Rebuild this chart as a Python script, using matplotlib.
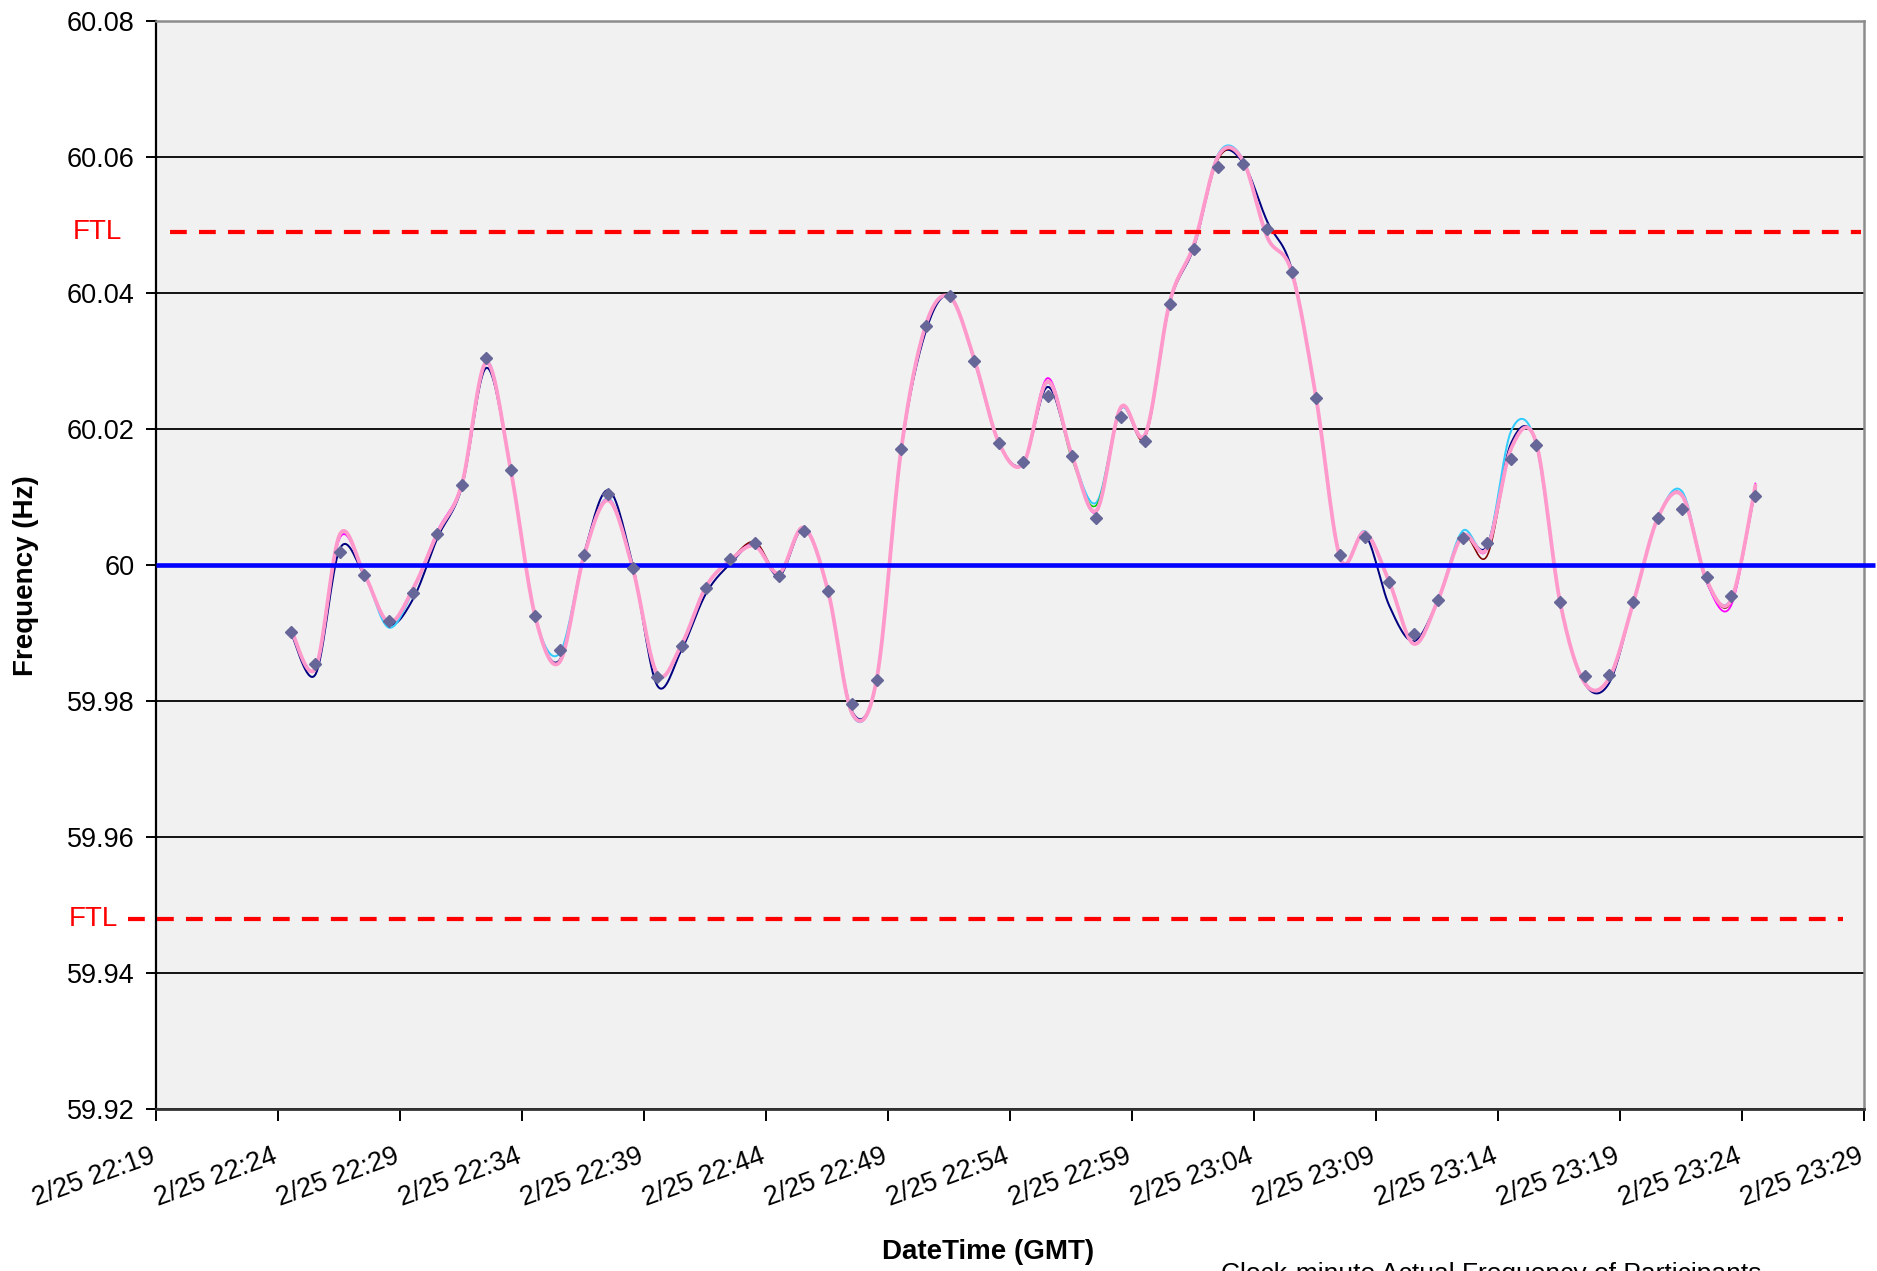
import numpy as np
import pandas as pd
import matplotlib
matplotlib.use("Agg")
import matplotlib.pyplot as plt
import matplotlib.dates as mdates
import matplotlib.transforms as mtransforms

# ---------------- data ----------------
tick_labels = ["2/25 22:19", "2/25 22:24", "2/25 22:29", "2/25 22:34", "2/25 22:39",
               "2/25 22:44", "2/25 22:49", "2/25 22:54", "2/25 22:59", "2/25 23:04",
               "2/25 23:09", "2/25 23:14", "2/25 23:19", "2/25 23:24", "2/25 23:29"]
y_ticks = [59.92, 59.94, 59.96, 59.98, 60.00, 60.02, 60.04, 60.06, 60.08]
y_tick_labels = ["59.92", "59.94", "59.96", "59.98", "60", "60.02", "60.04", "60.06", "60.08"]

start_time = "2008/2/25 22:24:33"   # first clock-minute sample

# Actual frequency (diamond markers), one per clock minute
actual = [59.9902, 59.9854, 60.0019, 59.9985, 59.9918, 59.9959, 60.0046, 60.0117, 60.0304, 60.0140,
          59.9925, 59.9875, 60.0015, 60.0104, 59.9995, 59.9835, 59.9881, 59.9966, 60.0009, 60.0033,
          59.9984, 60.0050, 59.9962, 59.9795, 59.9831, 60.0170, 60.0351, 60.0395, 60.0300, 60.0179,
          60.0152, 60.0248, 60.0160, 60.0069, 60.0217, 60.0183, 60.0384, 60.0465, 60.0586, 60.0590,
          60.0494, 60.0431, 60.0246, 60.0015, 60.0041, 59.9975, 59.9899, 59.9949, 60.0039, 60.0032,
          60.0156, 60.0177, 59.9945, 59.9837, 59.9838, 59.9945, 60.0069, 60.0082, 59.9982, 59.9955,
          60.0102]

# Participants' frequency traces
pink = [59.9905, 59.9848, 60.0045, 59.9987, 59.9916, 59.9965, 60.0047, 60.0119, 60.0298, 60.0140,
        59.9925, 59.9857, 60.0013, 60.0095, 59.9995, 59.9840, 59.9883, 59.9968, 60.0007, 60.0028,
        59.9988, 60.0055, 59.9962, 59.9781, 59.9833, 60.0170, 60.0352, 60.0394, 60.0302, 60.0180,
        60.0149, 60.0270, 60.0161, 60.0080, 60.0232, 60.0192, 60.0386, 60.0472, 60.0602, 60.0595,
        60.0482, 60.0431, 60.0246, 60.0009, 60.0048, 59.9975, 59.9884, 59.9949, 60.0043, 60.0024,
        60.0172, 60.0182, 59.9945, 59.9827, 59.9833, 59.9945, 60.0069, 60.0102, 59.9978, 59.9948,
        60.0117]
navy = [59.9900, 59.9839, 60.0024, 59.9985, 59.9913, 59.9950, 60.0040, 60.0115, 60.0290, 60.0140,
        59.9925, 59.9860, 60.0016, 60.0110, 60.0000, 59.9823, 59.9875, 59.9958, 60.0002, 60.0030,
        59.9984, 60.0053, 59.9962, 59.9784, 59.9833, 60.0168, 60.0343, 60.0395, 60.0300, 60.0180,
        60.0150, 60.0262, 60.0160, 60.0080, 60.0230, 60.0190, 60.0384, 60.0468, 60.0600, 60.0592,
        60.0505, 60.0435, 60.0246, 60.0010, 60.0045, 59.9940, 59.9888, 59.9949, 60.0043, 60.0028,
        60.0180, 60.0180, 59.9945, 59.9826, 59.9826, 59.9945, 60.0069, 60.0103, 59.9975, 59.9948,
        60.0112]
cyan = [59.9905, 59.9848, 60.0043, 59.9987, 59.9908, 59.9962, 60.0046, 60.0117, 60.0300, 60.0142,
        59.9925, 59.9870, 60.0013, 60.0098, 59.9995, 59.9838, 59.9883, 59.9968, 60.0007, 60.0030,
        59.9988, 60.0055, 59.9962, 59.9779, 59.9833, 60.0170, 60.0352, 60.0394, 60.0302, 60.0180,
        60.0150, 60.0268, 60.0161, 60.0092, 60.0230, 60.0192, 60.0386, 60.0472, 60.0605, 60.0597,
        60.0482, 60.0431, 60.0246, 60.0009, 60.0050, 59.9975, 59.9884, 59.9949, 60.0050, 60.0026,
        60.0198, 60.0180, 59.9945, 59.9828, 59.9833, 59.9945, 60.0069, 60.0108, 59.9978, 59.9950,
        60.0117]
magenta = [59.9905, 59.9848, 60.0040, 59.9987, 59.9916, 59.9965, 60.0050, 60.0121, 60.0298, 60.0140,
           59.9925, 59.9857, 60.0015, 60.0097, 59.9995, 59.9840, 59.9883, 59.9968, 60.0007, 60.0030,
           59.9988, 60.0055, 59.9962, 59.9781, 59.9833, 60.0172, 60.0352, 60.0394, 60.0302, 60.0180,
           60.0149, 60.0275, 60.0161, 60.0078, 60.0232, 60.0192, 60.0386, 60.0472, 60.0602, 60.0595,
           60.0482, 60.0431, 60.0246, 60.0009, 60.0048, 59.9975, 59.9884, 59.9949, 60.0043, 60.0022,
           60.0172, 60.0182, 59.9945, 59.9827, 59.9833, 59.9945, 60.0069, 60.0102, 59.9975, 59.9940,
           60.0120]
darkred = [59.9905, 59.9848, 60.0045, 59.9987, 59.9916, 59.9965, 60.0047, 60.0119, 60.0298, 60.0140,
           59.9925, 59.9857, 60.0013, 60.0095, 59.9995, 59.9840, 59.9883, 59.9968, 60.0007, 60.0034,
           59.9988, 60.0055, 59.9962, 59.9781, 59.9833, 60.0170, 60.0352, 60.0394, 60.0302, 60.0180,
           60.0149, 60.0270, 60.0161, 60.0080, 60.0232, 60.0188, 60.0386, 60.0472, 60.0598, 60.0595,
           60.0482, 60.0431, 60.0246, 60.0009, 60.0048, 59.9975, 59.9884, 59.9949, 60.0043, 60.0013,
           60.0172, 60.0182, 59.9945, 59.9827, 59.9833, 59.9945, 60.0069, 60.0102, 59.9978, 59.9945,
           60.0117]
green = [59.9905, 59.9848, 60.0045, 59.9987, 59.9916, 59.9965, 60.0047, 60.0119, 60.0298, 60.0140,
         59.9925, 59.9857, 60.0013, 60.0095, 59.9995, 59.9840, 59.9883, 59.9968, 60.0007, 60.0028,
         59.9988, 60.0055, 59.9962, 59.9781, 59.9833, 60.0170, 60.0352, 60.0394, 60.0302, 60.0180,
         60.0149, 60.0270, 60.0155, 60.0088, 60.0232, 60.0192, 60.0386, 60.0472, 60.0602, 60.0595,
         60.0482, 60.0431, 60.0246, 60.0009, 60.0048, 59.9975, 59.9884, 59.9949, 60.0043, 60.0024,
         60.0172, 60.0182, 59.9945, 59.9827, 59.9833, 59.9945, 60.0069, 60.0102, 59.9978, 59.9948,
         60.0117]

nominal = 60.0
ftl_high = 60.049
ftl_low = 59.948

# ---------------- helpers ----------------
def smooth(x, y, n=16):
    """Excel-style smoothed line: cubic Bezier through the points."""
    pts = np.column_stack([x, y]).astype(float)
    out = [pts[0]]
    t = np.linspace(0, 1, n + 1)[1:, None]
    for i in range(len(pts) - 1):
        p0 = pts[i - 1] if i > 0 else pts[i]
        p1, p2 = pts[i], pts[i + 1]
        p3 = pts[i + 2] if i + 2 < len(pts) else pts[i + 1]
        c1 = p1 + (p2 - p0) / 6.0
        c2 = p2 - (p3 - p1) / 6.0
        seg = (1 - t) ** 3 * p1 + 3 * (1 - t) ** 2 * t * c1 + 3 * (1 - t) * t ** 2 * c2 + t ** 3 * p2
        out.extend(seg)
    out = np.array(out)
    return out[:, 0], out[:, 1]

# ---------------- figure ----------------
plt.rcParams['font.family'] = ['Liberation Sans', 'DejaVu Sans']
W, H = 1877, 1271
fig = plt.figure(figsize=(W / 100, H / 100), dpi=100)
fig.patch.set_facecolor('white')
ax = fig.add_axes([155.6 / W, 1 - 1109 / H, (1864 - 155.6) / W, (1109 - 21) / H])
ax.set_facecolor('#F1F1F1')

times = pd.date_range(pd.to_datetime(start_time, format="%Y/%m/%d %H:%M:%S"),
                      periods=len(actual), freq="1min")
xnum = mdates.date2num(times.to_pydatetime())
tick_pos = mdates.date2num([pd.to_datetime("2008/" + s, format="%Y/%m/%d %H:%M").to_pydatetime()
                            for s in tick_labels])

ax.set_xlim(tick_pos[0], tick_pos[-1])
ax.set_ylim(y_ticks[0], y_ticks[-1])

# gridlines
ax.set_yticks(y_ticks)
ax.set_yticklabels(y_tick_labels)
ax.yaxis.grid(True, color='black', linewidth=1.3)
ax.set_axisbelow(True)

ax.set_xticks(tick_pos)
ax.set_xticklabels(tick_labels)

px = 72 / 100  # points per pixel

# participant traces
for series, col, lw in [(navy, '#000080', 2.0), (cyan, '#33CCFF', 2.0), (green, '#00CC00', 1.6),
                        (darkred, '#800000', 1.6), (magenta, '#FF00FF', 1.8), (pink, '#FF99CC', 3.8)]:
    sx, sy = smooth(xnum, series)
    ax.plot(sx, sy, color=col, linewidth=lw * px, solid_capstyle='round', zorder=3)

# actual frequency markers
ax.plot(xnum, actual, linestyle='none', marker='D', markersize=6.6,
        markerfacecolor='#666699', markeredgecolor='#666699', zorder=5)

# reference lines
trans = mtransforms.blended_transform_factory(ax.transAxes, ax.transData)
ax.plot([0, 1.0065], [nominal, nominal], transform=trans, color='#0000FF',
        linewidth=4.6 * px, clip_on=False, zorder=4, solid_capstyle='butt')
ax.plot([0.0084, 0.998], [ftl_high, ftl_high], transform=trans, color='#FF0000',
        linewidth=4.2 * px, dashes=(4.0, 2.9), clip_on=False, zorder=4)
ax.plot([-0.016, 0.988], [ftl_low, ftl_low], transform=trans, color='#FF0000',
        linewidth=4.2 * px, dashes=(4.0, 2.9), clip_on=False, zorder=4)
ax.text(-0.0343, ftl_high, "FTL", transform=trans, color='#FF0000', fontsize=20,
        ha='center', va='center')
ax.text(-0.0362, ftl_low, "FTL", transform=trans, color='#FF0000', fontsize=20,
        ha='center', va='center')

# spines
for side in ['top', 'right']:
    ax.spines[side].set_color('#8C8C8C')
    ax.spines[side].set_linewidth(1.8)
ax.spines['left'].set_color('black')
ax.spines['left'].set_linewidth(1.6)
ax.spines['bottom'].set_color('#333333')
ax.spines['bottom'].set_linewidth(2.0)

ax.tick_params(axis='y', direction='out', length=10 * px, width=1.4, labelsize=19.5,
               pad=8, colors='black')
ax.tick_params(axis='x', direction='out', length=12 * px, width=1.4, labelsize=19.5,
               pad=16, colors='black')
offset = mtransforms.ScaledTranslation(-6 / 100, 0, fig.dpi_scale_trans)
for lab in ax.get_xticklabels():
    lab.set_rotation(20)
    lab.set_rotation_mode('anchor')
    lab.set_ha('right')
    lab.set_va('top')
    lab.set_transform(lab.get_transform() + offset)

# axis titles
fig.text(26 / W, 1 - 576 / H, "Frequency (Hz)", rotation=90, fontsize=20, fontweight='bold',
         ha='center', va='center')
fig.text(988 / W, 1 - 1252 / H, "DateTime (GMT)", fontsize=20, fontweight='bold',
         ha='center', va='center')
fig.text(1221 / W, 1 - 1262 / H, "Clock-minute Actual Frequency of Participants", fontsize=19,
         ha='left', va='top')

fig.savefig("out.png", dpi=100, facecolor='white')
